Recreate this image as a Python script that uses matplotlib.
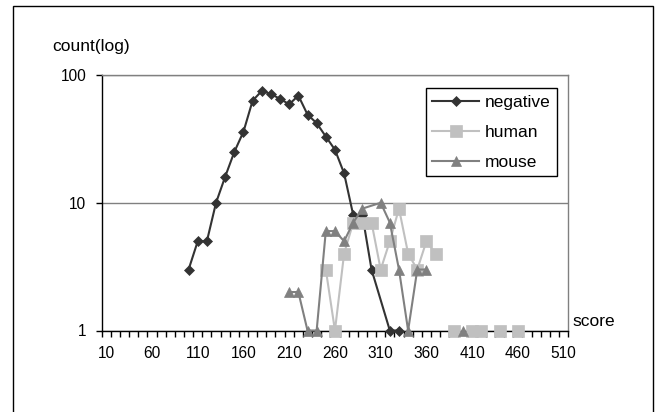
import numpy as np
import matplotlib
matplotlib.use('Agg')
import matplotlib.pyplot as plt
from matplotlib.patches import Rectangle
from matplotlib.ticker import FixedLocator, NullLocator

plt.rcParams['font.family'] = ['Liberation Sans', 'DejaVu Sans']

nan = np.nan
# categories (score) and counts
neg_x = [100, 110, 120, 130, 140, 150, 160, 170, 180, 190, 200, 210, 220, 230,
         240, 250, 260, 270, 280, 290, 300, 320, 330]
neg_y = [3, 5, 5, 10, 16, 25, 36, 63, 75, 71, 65, 59, 69, 49,
         42, 33, 26, 17, 8, 8, 3, 1, 1]

human_x = [250, 260, 270, 280, 290, 300, 310, 320, 330, 340, 350, 360, 370,
           380, 390, 400, 410, 420, 430, 440, 450, 460]
human_y = [3, 1, 4, 7, 7, 7, 3, 5, 9, 4, 3, 5, 4,
           nan, 1, nan, 1, 1, nan, 1, nan, 1]

mouse_x = [210, 220, 230, 240, 250, 260, 270, 280, 290, 310, 320, 330, 340,
           350, 360, 370, 400]
mouse_y = [2, 2, 1, 1, 6, 6, 5, 7, 9, 10, 7, 3, 1,
           3, 3, nan, 1]

xtick_labels = [str(v) for v in range(10, 511, 50)]
ytick_vals = [1, 10, 100]
ytick_labels = ['1', '10', '100']

W, H = 664, 412
fig = plt.figure(figsize=(W / 100, H / 100), dpi=100)
ax = fig.add_axes([101.7 / W, 1 - 330.5 / H, (568.2 - 101.7) / W, (330.5 - 75) / H])

ax.plot(neg_x, neg_y, color='#333333', lw=1.5, marker='D', ms=5.6,
        mfc='#333333', mec='#333333', mew=0.5, label='negative', clip_on=False, zorder=3)
ax.plot(human_x, human_y, color='#c0c0c0', lw=1.5, marker='s', ms=8,
        mfc='#c0c0c0', mec='#c0c0c0', mew=0.5, label='human', clip_on=False, zorder=4)
ax.plot(mouse_x, mouse_y, color='#808080', lw=1.5, marker='^', ms=7.5,
        mfc='#808080', mec='#808080', mew=0.5, label='mouse', clip_on=False, zorder=5)

ax.set_yscale('log')
ax.set_ylim(1, 100)
ax.set_xlim(5, 515)
ax.yaxis.set_major_locator(FixedLocator(ytick_vals))
ax.yaxis.set_minor_locator(NullLocator())
ax.set_yticklabels(ytick_labels)
ax.set_xticks(list(range(10, 511, 50)))
ax.set_xticklabels(xtick_labels)
ax.set_xticks(list(range(5, 516, 10)), minor=True)

ax.tick_params(axis='x', which='major', length=0, pad=11, labelsize=11.2)
ax.tick_params(axis='x', which='minor', length=4, width=1, direction='out', color='black')
ax.tick_params(axis='y', which='major', length=4, width=1, direction='out', pad=7, labelsize=11.2)

ax.yaxis.grid(True, which='major', color='#808080', lw=1)
ax.set_axisbelow(True)
for s in ['top', 'right']:
    ax.spines[s].set_color('#808080')
    ax.spines[s].set_linewidth(1)
for s in ['left', 'bottom']:
    ax.spines[s].set_color('black')
    ax.spines[s].set_linewidth(1)
    ax.spines[s].set_zorder(2.5)

leg = ax.legend(loc='upper left', bbox_to_anchor=(425.7 / W, 1 - 88.3 / H),
                bbox_transform=fig.transFigure, borderaxespad=0, fontsize=12.5,
                frameon=True, fancybox=False, edgecolor='black', framealpha=1,
                handlelength=2.7, labelspacing=0.85, borderpad=0.38, handletextpad=0.3)
leg.get_frame().set_linewidth(1)

fig.text(52 / W, 1 - 46 / H, 'count(log)', fontsize=12.5, ha='left', va='center')
fig.text(572 / W, 1 - 322 / H, 'score', fontsize=12.5, ha='left', va='center')

fig.patches.append(Rectangle((12.5 / W, -0.05), (652.5 - 12.5) / W, 1.05 - 5.5 / H,
                             transform=fig.transFigure, fill=False,
                             edgecolor='black', lw=1))

fig.savefig('out.png', dpi=100)
